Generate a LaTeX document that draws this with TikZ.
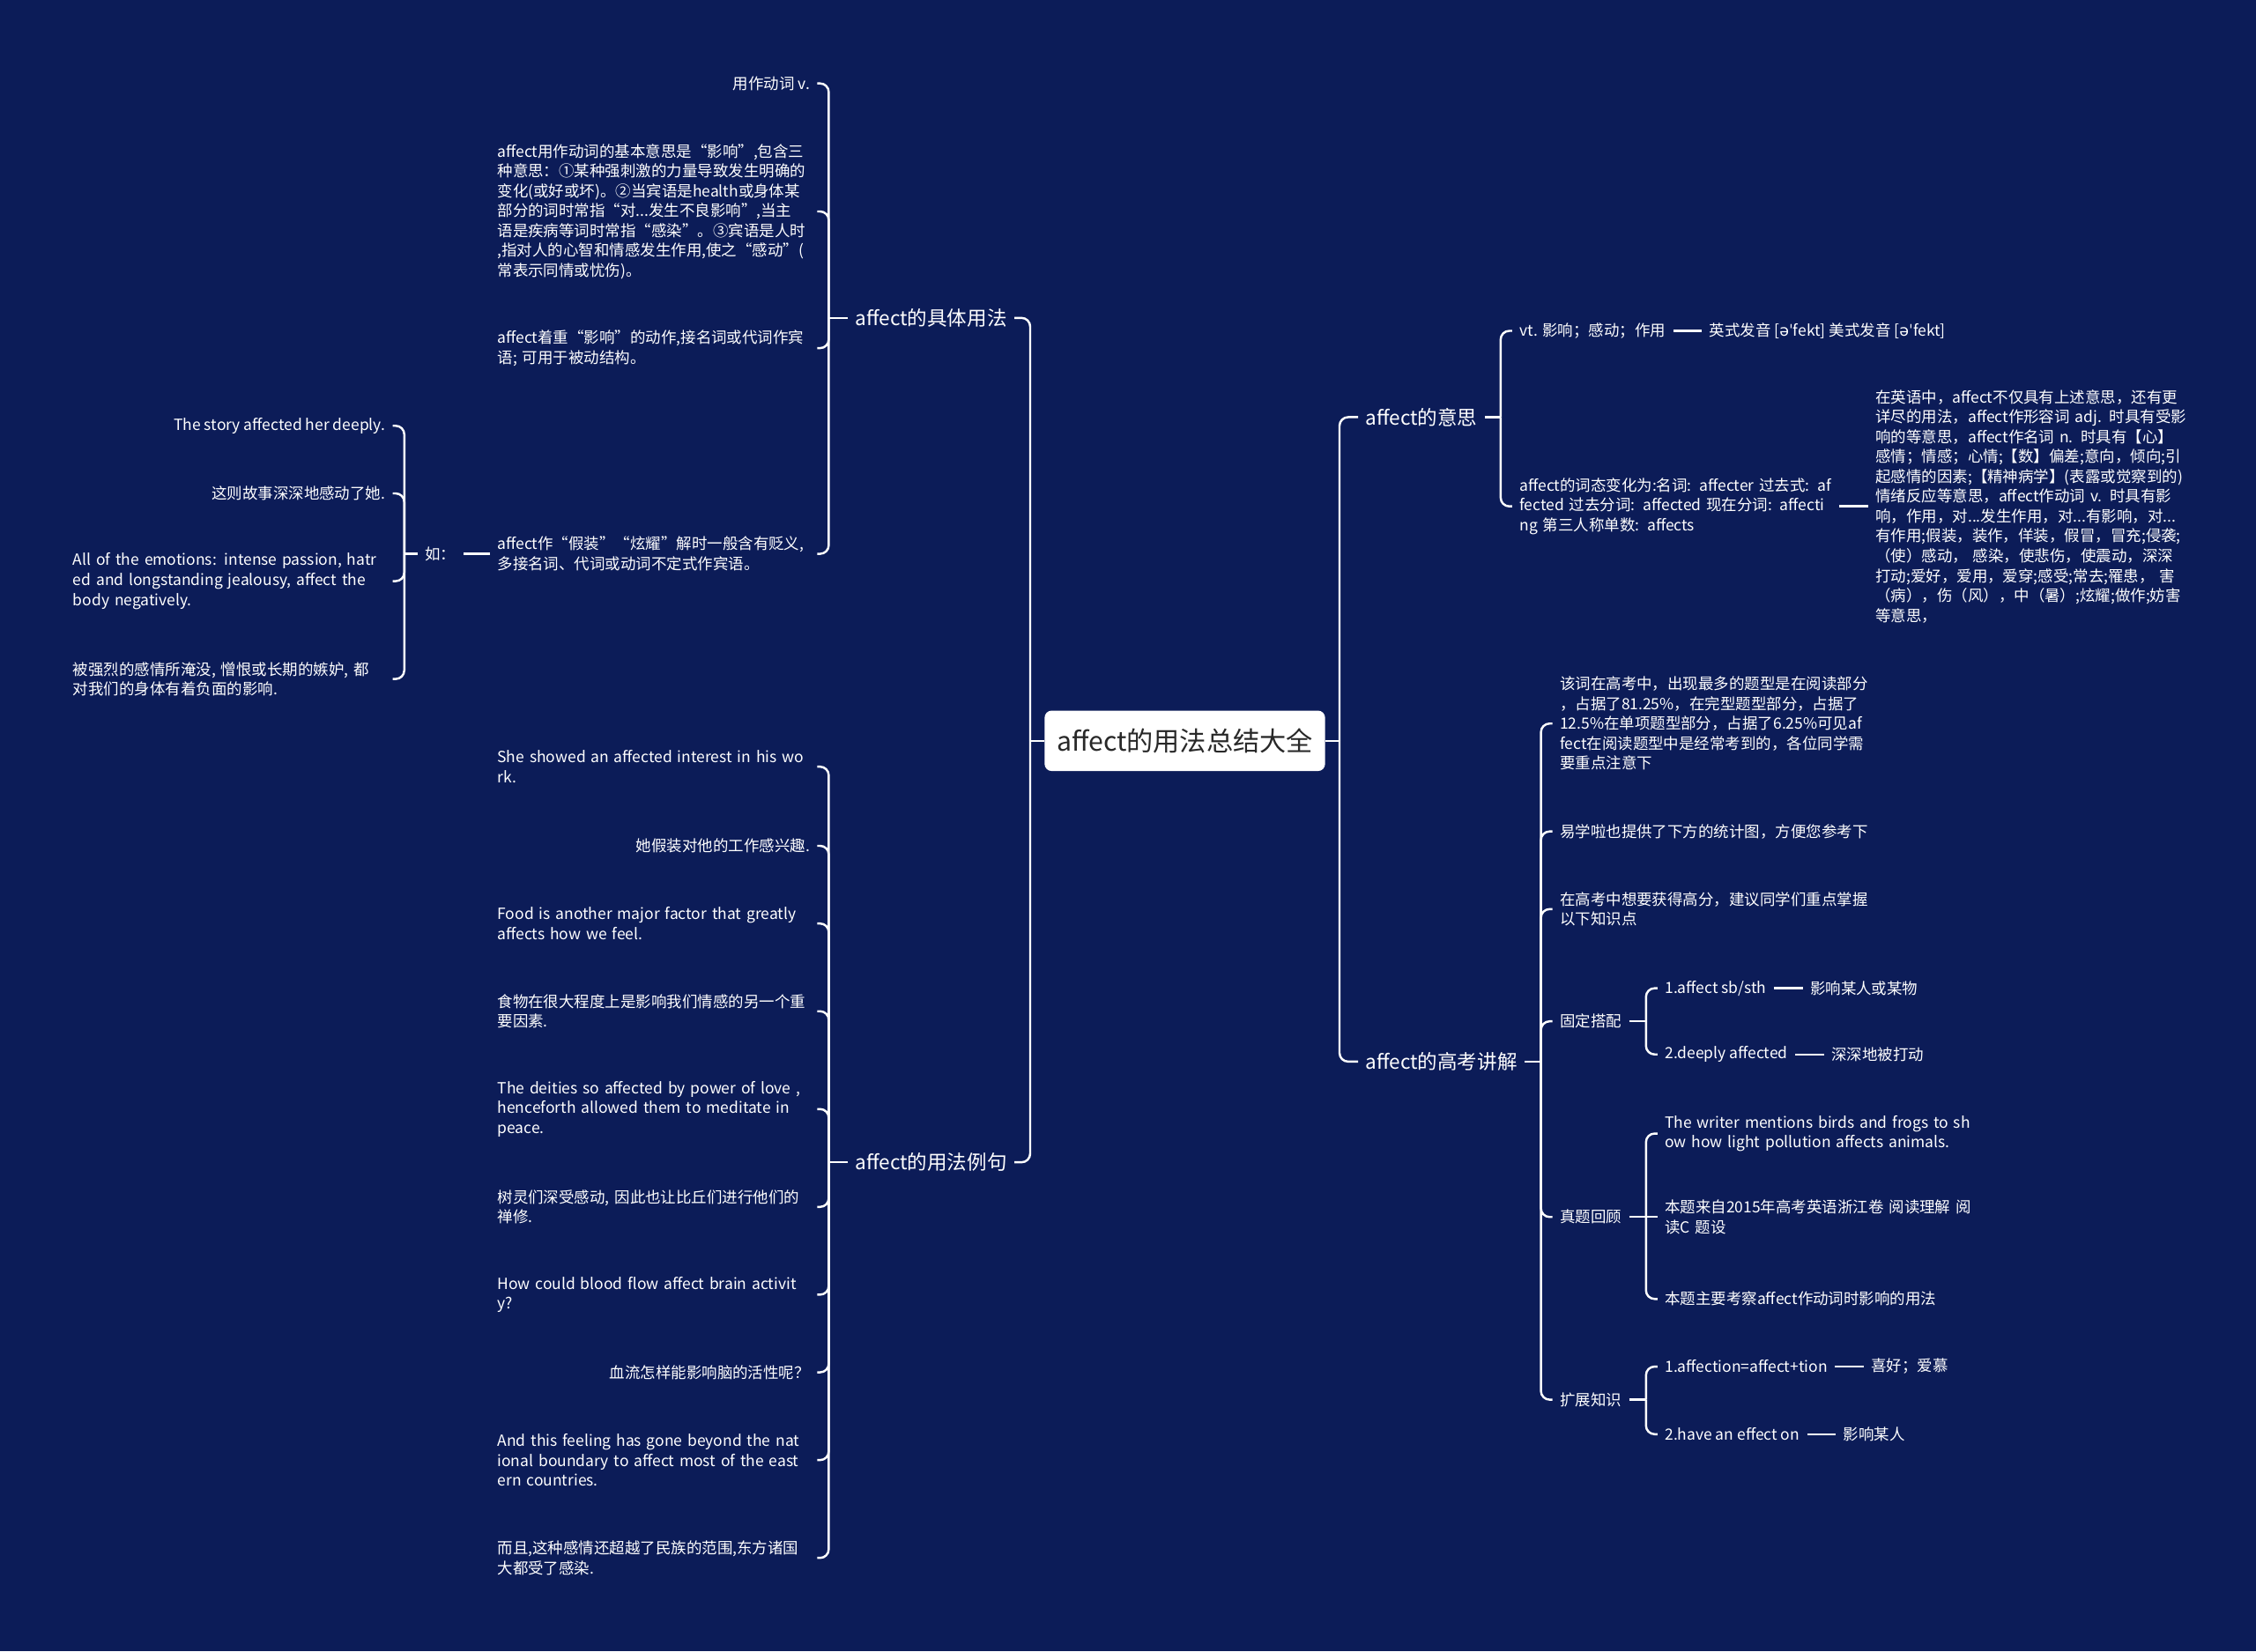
\documentclass[tikz,border=0pt]{standalone}
\usepackage{fontspec}
\setmainfont{Noto Sans CJK SC}
\newfontfamily\ipafont{DejaVu Sans}
\usetikzlibrary{positioning}
\definecolor{bgnavy}{RGB}{12,28,88}
\definecolor{rootink}{RGB}{40,40,40}

\begin{document}
\begin{tikzpicture}[
  x=1pt,y=-1pt,
  font=\fontsize{10.7}{13.8}\selectfont,
  every node/.style={text=white,inner xsep=5pt,inner ysep=2pt},
  rootbox/.style={fill=white,rounded corners=5pt,minimum width=195pt,minimum height=42pt,text=rootink,font=\fontsize{18.5}{22}\selectfont},
  branch/.style={font=\fontsize{13.8}{16}\selectfont},
  lleaf/.style={anchor=east},
  lpara/.style={anchor=east,text width=217pt,align=left},
  rleaf/.style={anchor=west},
  rpara/.style={anchor=west,text width=217pt,align=left},
  link/.style={draw=white,line width=1.5pt,rounded corners=6pt},
]
\path[use as bounding box,fill=bgnavy] (0,0) rectangle (1568,1148);

% root and main branches
\node[rootbox] (root) at (823.5,515) {affect的用法总结大全};
\node[branch,anchor=east] (use) at (705,221) {affect的具体用法};
\node[branch,anchor=east] (ex) at (705,808) {affect的用法例句};
\node[branch,anchor=west] (mean) at (944,290) {affect的意思};
\node[branch,anchor=west] (exam) at (944,738) {affect的高考讲解};

\coordinate (rootL) at (716,515);
\coordinate (rootR) at (931,515);
\draw[link] (root.west) -- (rootL);
\draw[link] (root.east) -- (rootR);
\foreach \c in {use,ex} \draw[link] (rootL) |- (\c.east);
\foreach \c in {mean,exam} \draw[link] (rootR) |- (\c.west);

% affect的具体用法
\node[lleaf] (use1) at (568,58) {用作动词 v.};
\node[lpara] (use2) at (568,147) {affect用作动词的基本意思是“影响”,包含三\\种意思：①某种强刺激的力量导致发生明确的\\变化(或好或坏)。②当宾语是health或身体某\\部分的词时常指“对...发生不良影响”,当主\\语是疾病等词时常指“感染”。③宾语是人时\\,指对人的心智和情感发生作用,使之“感动”(\\常表示同情或忧伤)。};
\node[lpara] (use3) at (568,242) {affect着重“影响”的动作,接名词或代词作宾\\语; 可用于被动结构。};
\node[lpara] (use4) at (568,385) {affect作“假装”“炫耀”解时一般含有贬义,\\多接名词、代词或动词不定式作宾语。};
\coordinate (useB) at (576,221);
\draw[link] (use.west) -- (useB);
\foreach \c in {use1,use2,use3,use4} \draw[link] (useB) |- (\c.east);

\node[anchor=east] (ru) at (322,385) {如：};
\draw[link] (use4.west) -- (ru.east);
\node[lleaf] (ru1) at (273,296) {The story affected her deeply.};
\node[lleaf] (ru2) at (273,343) {这则故事深深地感动了她.};
\node[lpara] (ru3) at (273,404) {All of the emotions: intense passion, hatr\\ed and longstanding jealousy, affect the\\body negatively.};
\node[lpara] (ru4) at (273,472) {被强烈的感情所淹没, 憎恨或长期的嫉妒, 都\\对我们的身体有着负面的影响.};
\coordinate (ruB) at (281,385);
\draw[link] (ru.west) -- (ruB);
\foreach \c in {ru1,ru2,ru3,ru4} \draw[link] (ruB) |- (\c.east);

% affect的用法例句
\node[lpara] (ex1) at (568,533) {She showed an affected interest in his wo\\rk.};
\node[lleaf] (ex2) at (568,588) {她假装对他的工作感兴趣.};
\node[lpara] (ex3) at (568,642) {Food is another major factor that greatly\\affects how we feel.};
\node[lpara] (ex4) at (568,703) {食物在很大程度上是影响我们情感的另一个重\\要因素.};
\node[lpara] (ex5) at (568,771) {The deities so affected by power of love ,\\henceforth allowed them to meditate in\\peace.};
\node[lpara] (ex6) at (568,839) {树灵们深受感动, 因此也让比丘们进行他们的\\禅修.};
\node[lpara] (ex7) at (568,900) {How could blood flow affect brain activit\\y?};
\node[lleaf] (ex8) at (568,954) {血流怎样能影响脑的活性呢？};
\node[lpara] (ex9) at (568,1015) {And this feeling has gone beyond the nat\\ional boundary to affect most of the east\\ern countries.};
\node[lpara] (ex10) at (568,1083) {而且,这种感情还超越了民族的范围,东方诸国\\大都受了感染.};
\coordinate (exB) at (576,808);
\draw[link] (ex.west) -- (exB);
\foreach \c in {ex1,ex2,ex3,ex4,ex5,ex6,ex7,ex8,ex9,ex10} \draw[link] (exB) |- (\c.east);

% affect的意思
\node[rleaf] (mean1) at (1051,230) {vt. 影响；感动；作用};
\node[rleaf,right=20pt of mean1] (mean1b) {英式发音 [{\ipafont əˈ}fekt] 美式发音 [{\ipafont əˈ}fekt]};
\node[rpara] (mean2) at (1051,352) {affect的词态变化为:名词: affecter 过去式: af\\fected 过去分词: affected 现在分词: affecti\\ng 第三人称单数: affects};
\node[rpara,right=20pt of mean2] (mean2b) {在英语中，affect不仅具有上述意思，还有更\\详尽的用法，affect作形容词 adj. 时具有受影\\响的等意思，affect作名词 n. 时具有【心】\\感情；情感；心情;【数】偏差;意向，倾向;引\\起感情的因素;【精神病学】(表露或觉察到的)\\情绪反应等意思，affect作动词 v. 时具有影\\响，作用，对...发生作用，对...有影响，对...\\有作用;假装，装作，佯装，假冒，冒充;侵袭;\\（使）感动， 感染，使悲伤，使震动，深深\\打动;爱好，爱用，爱穿;感受;常去;罹患， 害\\（病），伤（风），中（暑）;炫耀;做作;妨害\\等意思，};
\coordinate (meanB) at (1043,290);
\draw[link] (mean.east) -- (meanB);
\foreach \c in {mean1,mean2} \draw[link] (meanB) |- (\c.west);
\draw[link] (mean1.east) -- (mean1b.west);
\draw[link] (mean2.east) -- (mean2b.west);

% affect的高考讲解
\node[rpara] (exam1) at (1079,503) {该词在高考中，出现最多的题型是在阅读部分\\，占据了81.25\%，在完型题型部分，占据了\\12.5\%在单项题型部分，占据了6.25\%可见af\\fect在阅读题型中是经常考到的，各位同学需\\要重点注意下};
\node[rleaf] (exam2) at (1079,578) {易学啦也提供了下方的统计图，方便您参考下};
\node[rpara] (exam3) at (1079,632) {在高考中想要获得高分，建议同学们重点掌握\\以下知识点};
\node[rleaf] (exam4) at (1079,710) {固定搭配};
\node[rleaf] (exam5) at (1079,846) {真题回顾};
\node[rleaf] (exam6) at (1079,973) {扩展知识};
\coordinate (examB) at (1071,738);
\draw[link] (exam.east) -- (examB);
\foreach \c in {exam1,exam2,exam3,exam4,exam5,exam6} \draw[link] (examB) |- (\c.west);

\node[rleaf] (fix1) at (1152,687) {1.affect sb/sth};
\node[rleaf,right=20pt of fix1] (fix1b) {影响某人或某物};
\node[rleaf] (fix2) at (1152,733) {2.deeply affected};
\node[rleaf,right=20pt of fix2] (fix2b) {深深地被打动};
\coordinate (fixB) at (1144,710);
\draw[link] (exam4.east) -- (fixB);
\foreach \c in {fix1,fix2} \draw[link] (fixB) |- (\c.west);
\draw[link] (fix1.east) -- (fix1b.west);
\draw[link] (fix2.east) -- (fix2b.west);

\node[rpara] (real1) at (1152,788) {The writer mentions birds and frogs to sh\\ow how light pollution affects animals.};
\node[rpara] (real2) at (1152,846) {本题来自2015年高考英语浙江卷 阅读理解 阅\\读C 题设};
\node[rleaf] (real3) at (1152,903) {本题主要考察affect作动词时影响的用法};
\coordinate (realB) at (1144,846);
\draw[link] (exam5.east) -- (real2.west);
\foreach \c in {real1,real3} \draw[link] (realB) |- (\c.west);

\node[rleaf] (ext1) at (1152,950) {1.affection=affect+tion};
\node[rleaf,right=20pt of ext1] (ext1b) {喜好；爱慕};
\node[rleaf] (ext2) at (1152,997) {2.have an effect on};
\node[rleaf,right=20pt of ext2] (ext2b) {影响某人};
\coordinate (extB) at (1144,973);
\draw[link] (exam6.east) -- (extB);
\foreach \c in {ext1,ext2} \draw[link] (extB) |- (\c.west);
\draw[link] (ext1.east) -- (ext1b.west);
\draw[link] (ext2.east) -- (ext2b.west);
\end{tikzpicture}
\end{document}
